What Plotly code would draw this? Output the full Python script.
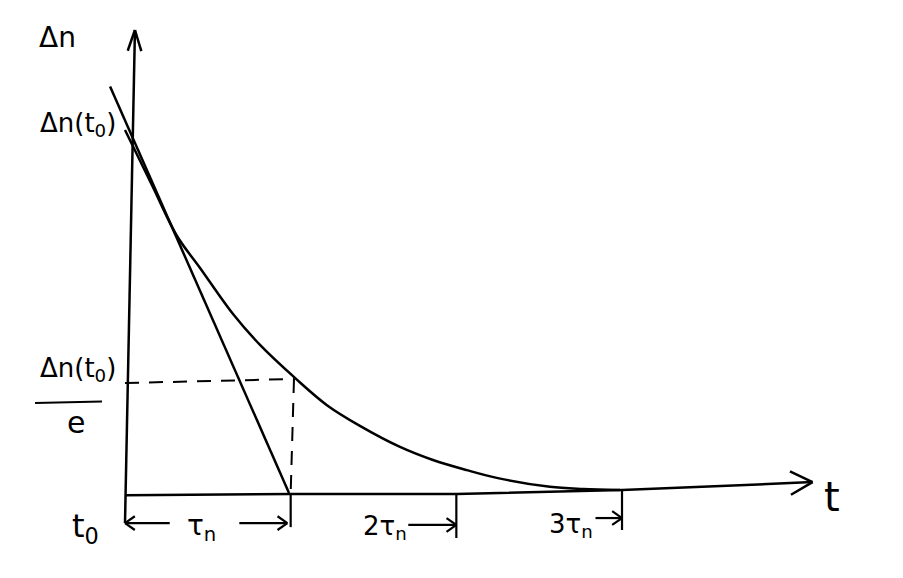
import math
import plotly.graph_objects as go

# ---- data (t in units of tau_n, delta-n relative to delta-n(t0)) ----
curve_t = [0.0, 0.163, 0.314, 0.453, 0.652, 0.815, 1.026, 1.219, 1.418, 1.660,
           1.859, 2.064, 2.251, 2.565, 2.765, 2.988]
curve_n = [1.0, 0.848, 0.708, 0.620, 0.493, 0.408, 0.317, 0.242, 0.185, 0.127,
           0.091, 0.063, 0.041, 0.017, 0.011, 0.008]

tangent_t = [-0.09, 0.99]
tangent_n = [1.12, 0.0]

taxis_t = [0.0, 1.0, 2.0, 3.0, 4.15]
taxis_n = [-0.006, -0.003, -0.003, 0.008, 0.030]

level_t = [0.0, 1.02]
level_n = [0.303, 0.314]

tick_t = [1, 2, 3]
tick_labels = ["τ<sub>n</sub>", "2τ<sub>n</sub>", "3τ<sub>n</sub>"]

# ---- view ----
W, H = 903, 578
PXX, PXY = 165.67, 363.0
OFF = 8  # page margin of the html body
X0 = -(125 - OFF) / PXX
X1 = X0 + W / PXX
Y1 = (493 - OFF) / PXY
Y0 = Y1 - H / PXY
PX_X = W / (X1 - X0)
PX_Y = H / (Y1 - Y0)

LW = 2.5
fig = go.Figure()


def line(xs, ys, dash=None, shape="linear", width=LW):
    fig.add_trace(go.Scatter(x=xs, y=ys, mode="lines",
                             line=dict(color="black", width=width, dash=dash, shape=shape),
                             hoverinfo="skip", showlegend=False))


def arrow(x0, y0, x1, y1, head=14, ang=30, width=LW):
    dx = (x1 - x0) * PX_X
    dy = (y1 - y0) * PX_Y
    L = math.hypot(dx, dy)
    ux, uy = -dx / L, -dy / L
    xs, ys = [x0, x1, None], [y0, y1, None]
    for s in (1, -1):
        a = math.radians(ang) * s
        bx = ux * math.cos(a) - uy * math.sin(a)
        by = ux * math.sin(a) + uy * math.cos(a)
        xs += [x1 + bx * head / PX_X, x1, None]
        ys += [y1 + by * head / PX_Y, y1, None]
    line(xs, ys, width=width)


# vertical axis
arrow(0.0, -0.083, 0.06, 1.2755, head=22, ang=18)
# horizontal axis
line(taxis_t[:-1], taxis_n[:-1])
arrow(taxis_t[-2], taxis_n[-2], taxis_t[-1], taxis_n[-1], head=25, ang=28)

# curve and tangent
line(curve_t, curve_n, shape="spline")
line(tangent_t, tangent_n)

# dashed guides
line(level_t, level_n, dash="14px,10px", width=2)
line([level_t[1], tick_t[0]], [level_n[1], 0.0], dash="14px,10px", width=2)

# ticks below the axis
tick_bottom = [-0.094, -0.124, -0.102]
for t, b in zip(tick_t, tick_bottom):
    line([t, t], [taxis_n[taxis_t.index(float(t))], b], width=2.2)

# measurement arrows
arrow(0.27, -0.083, 0.0, -0.083, head=12, ang=35, width=2.2)
arrow(0.69, -0.083, 0.98, -0.083, head=12, ang=35, width=2.2)
arrow(1.71, -0.088, 2.0, -0.088, head=12, ang=35, width=2.2)
arrow(2.84, -0.069, 3.0, -0.069, head=12, ang=35, width=2.2)

# fraction bar
line([-0.543, -0.139], [0.248, 0.252], width=2.2)

FONT = dict(family="DejaVu Sans", color="black")


def label(x, y, text, size):
    fig.add_annotation(x=x, y=y, xref="x", yref="y", text=text, showarrow=False,
                       font=dict(size=size, **FONT), xanchor="center", yanchor="middle")


label(-0.41, 1.256, "Δn", 28)
label(-0.284, 1.014, "Δn(t<sub>0</sub>)", 26)
label(-0.284, 0.34, "Δn(t<sub>0</sub>)", 26)
label(-0.296, 0.193, "e", 30)
label(-0.241, -0.096, "t<sub>0</sub>", 32)
label(0.46, -0.094, tick_labels[0], 28)
label(1.57, -0.094, tick_labels[1], 26)
label(2.69, -0.09, tick_labels[2], 26)
label(4.268, -0.011, "t", 40)

fig.update_layout(
    width=W, height=H, margin=dict(l=0, r=0, t=0, b=0),
    paper_bgcolor="white", plot_bgcolor="white",
    xaxis=dict(range=[X0, X1], visible=False, fixedrange=True),
    yaxis=dict(range=[Y0, Y1], visible=False, fixedrange=True),
    showlegend=False,
)
fig.write_html("out.html")
